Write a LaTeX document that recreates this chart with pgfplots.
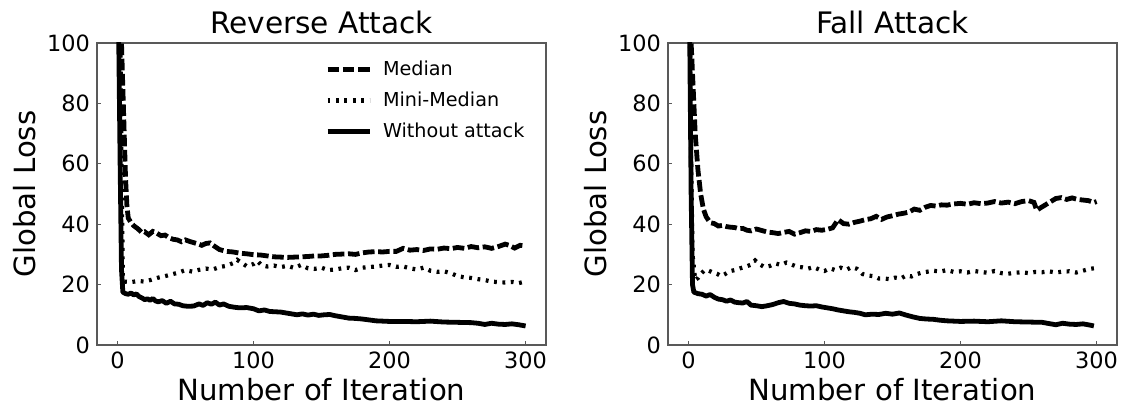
\documentclass[border=0pt]{standalone}
\usepackage{fontspec}
\setmainfont{DejaVu Sans}
\usepackage{pgfplots}
\pgfplotsset{compat=1.18}
\usepackage{pgfplotstable}

% Reverse attack
\pgfplotstableread{
x y
2 130
3 100
4 85
5 70
6 55
7 46
8 42
10 40.5
12 39.5
15 38.5
18 37.2
20 37.5
23 36.5
26 37.6
29 37.0
32 36.2
35 36.4
38 35.5
41 35.0
44 34.8
47 34.2
50 34.8
53 34.3
56 33.9
59 33.5
62 33.0
65 33.6
68 33.8
71 32.8
75 31.6
80 31.0
85 30.8
90 30.4
95 30.2
100 29.9
105 29.8
110 29.5
115 29.2
120 29.1
125 29.0
130 29.1
135 29.2
140 29.3
145 29.5
150 29.5
155 29.7
160 30.0
165 30.1
170 30.2
175 30.0
180 30.5
185 30.8
190 30.9
195 30.8
200 31.0
205 31.0
210 32.0
215 31.4
220 31.6
225 31.3
230 31.8
235 31.7
240 32.1
245 31.9
250 32.3
255 32.0
260 32.6
265 32.2
270 32.5
275 32.0
280 32.6
285 33.4
288 33.0
292 32.1
296 33.0
300 32.8
}\revmedian

\pgfplotstableread{
x y
2 110
3 60
4 23
5 21
10 20.8
15 21.2
20 21.0
25 21.6
30 22.3
35 22.8
40 23.4
45 24.0
50 24.8
55 24.3
60 24.9
65 25.3
70 25.0
75 25.8
80 26.2
85 27.1
88 28.2
92 27.0
95 26.1
100 26.8
103 27.8
106 26.4
110 26.0
115 26.3
120 25.8
125 26.2
130 25.5
135 26.5
140 25.4
145 25.2
150 25.6
155 24.8
160 25.0
165 25.4
170 25.6
175 24.8
180 25.6
185 25.8
190 26.0
195 26.3
200 26.5
205 25.9
210 26.0
215 25.4
220 25.0
225 25.6
230 24.6
235 24.2
240 24.4
245 23.8
250 22.8
255 22.4
260 22.2
265 21.8
270 21.5
275 21.0
280 20.8
285 20.7
290 20.9
295 20.5
300 21.0
}\revmini

\pgfplotstableread{
x y
0 130
1 100
2 60
3 25
4 17.5
6 17.0
8 16.8
10 17.2
12 16.6
14 16.9
16 16.0
18 15.6
20 15.0
22 15.3
24 14.8
26 15.4
28 14.6
30 14.3
33 14.7
36 13.8
39 14.5
42 13.6
45 13.5
48 13.0
52 12.8
56 12.9
60 13.6
63 13.1
66 14.0
69 13.5
72 14.2
75 13.2
78 13.6
82 12.8
86 12.5
90 12.3
95 12.4
100 12.0
104 11.3
108 11.6
112 11.1
116 11.0
120 10.9
124 10.6
128 10.3
132 10.0
136 10.3
140 9.9
144 10.2
148 9.8
152 10.0
156 10.1
160 9.7
165 9.3
170 8.9
175 8.8
180 8.6
185 8.3
190 8.0
195 7.9
200 7.8
210 7.8
220 7.7
230 7.9
240 7.6
250 7.5
260 7.4
265 7.2
270 6.8
275 7.2
280 6.9
285 6.8
290 7.0
295 6.7
300 6.3
}\revnone

% Fall attack
\pgfplotstableread{
x y
1 130
2 100
3 90
4 80
5 70
7 58
9 50
11 45
13 42.5
16 40.5
19 40.2
22 39.4
25 39.6
28 39.2
31 39.0
34 38.9
37 38.5
40 38.6
43 38.0
46 37.8
50 38.4
54 37.9
58 37.4
62 37.2
66 36.9
70 37.3
74 37.6
78 36.7
82 37.2
86 37.8
90 37.6
94 38.2
98 38.0
102 38.3
106 38.8
110 41.5
114 40.2
118 40.0
122 40.6
126 41.0
130 41.5
134 41.8
138 42.6
142 41.6
146 42.4
150 42.8
154 43.3
158 43.6
162 44.0
166 45.0
170 44.6
174 45.6
178 46.2
182 46.0
186 46.4
190 46.3
195 46.7
200 46.9
205 46.6
210 47.1
215 46.8
220 47.0
225 47.5
230 47.0
235 47.3
240 46.8
245 47.5
250 47.8
254 47.2
256 44.6
258 45.2
262 46.3
266 47.4
270 48.5
274 48.8
278 48.2
282 48.7
286 48.2
290 48.0
294 47.8
298 47.2
300 47.5
}\fallmedian

\pgfplotstableread{
x y
1 110
2 60
3 30
5 21.5
7 22.2
9 23.5
12 24.8
15 24.6
18 24.0
21 23.6
24 22.8
27 23.5
30 24.4
34 24.8
38 25.4
42 25.9
46 26.6
49 28.0
52 26.8
56 25.8
60 26.2
64 27.0
68 26.5
72 27.3
76 26.6
80 25.9
84 25.7
88 25.3
92 25.8
96 25.0
100 24.5
104 25.4
108 24.8
112 25.6
116 24.9
120 25.8
124 25.2
128 23.5
132 23.0
136 22.8
140 22.0
144 22.0
148 21.8
152 22.3
156 22.0
160 23.0
164 22.7
168 23.5
172 24.0
176 24.3
180 24.6
185 24.3
190 24.8
195 24.2
200 24.4
205 24.0
210 24.5
215 24.2
220 23.9
225 24.5
230 23.8
235 23.6
240 23.9
245 24.1
250 23.8
255 24.2
260 24.1
265 24.4
270 24.0
275 24.3
280 24.4
285 24.0
290 24.6
295 25.2
298 25.4
}\fallmini

\pgfplotstableread{
x y
0 130
1 100
2 50
3 20
4 17.5
7 17.0
10 16.8
13 16.2
16 16.7
19 15.8
22 15.2
25 15.0
28 14.5
31 14.9
34 14.2
37 14.0
40 13.9
43 14.4
46 13.2
50 13.0
54 12.7
58 13.0
62 13.4
66 14.0
70 14.4
74 13.8
78 13.6
82 13.2
86 13.0
90 12.9
94 13.0
98 12.6
102 12.3
106 12.0
110 11.6
114 11.3
118 11.0
122 10.8
126 10.5
130 10.0
135 10.2
140 10.1
145 10.5
150 10.2
155 10.6
160 9.9
165 9.3
170 8.8
175 8.6
180 8.5
185 8.2
190 8.0
200 7.8
210 7.9
220 7.7
230 8.0
240 7.7
250 7.6
260 7.5
265 7.1
270 6.7
275 7.2
280 6.9
285 6.8
290 7.0
295 6.6
298 6.3
}\fallnone

\pgfplotsset{
  lossaxis/.style={
    scale only axis,
    width=224.5pt, height=151pt,
    xmin=-15, xmax=315, ymin=0, ymax=100,
    xtick={0,100,200,300}, ytick={0,20,...,100},
    tick pos=left, tick align=inside,
    major tick length=2pt,
    axis line style={black!65, line width=0.6pt},
    tick style={black!65, line width=0.6pt},
    /pgf/number format/assume math mode=true,
    ticklabel style={font=\fontsize{11.2}{13}\selectfont},
    label style={font=\fontsize{14.6}{17}\selectfont},
    title style={font=\fontsize{14.8}{17}\selectfont, yshift=-5pt},
    xlabel=Number of Iteration, ylabel=Global Loss,
    xlabel style={yshift=2pt},
    ylabel style={yshift=-1pt},
    clip=true,
  },
  medianline/.style={black, line width=2.4pt, dash pattern=on 5.8pt off 1.8pt},
  miniline/.style={black, line width=2.1pt, dash pattern=on 1.4pt off 2.8pt},
  noneline/.style={black, line width=2.4pt, line join=round},
}

\begin{document}
\begin{tikzpicture}
\begin{axis}[lossaxis,
  title=Reverse Attack,
  legend style={draw=none, fill=none, at={(0.494,0.97)}, anchor=north west,
    font=\fontsize{9.6}{11}\selectfont, row sep=2.8pt},
  legend cell align=left,
  legend image code/.code={\draw[#1] (0pt,0pt) -- (21pt,0pt); \path (24.5pt,0pt);},
]
\addplot[medianline] table {\revmedian};
\addplot[miniline] table {\revmini};
\addplot[noneline] table {\revnone};
\legend{Median, Mini-Median, Without attack}
\end{axis}
\begin{axis}[lossaxis, xshift=285.5pt, title=Fall Attack]
\addplot[medianline] table {\fallmedian};
\addplot[miniline] table {\fallmini};
\addplot[noneline] table {\fallnone};
\end{axis}
\pgfresetboundingbox
\path[use as bounding box] (-48.5pt,-32.5pt) rectangle (513pt,172.5pt);
\end{tikzpicture}
\end{document}
